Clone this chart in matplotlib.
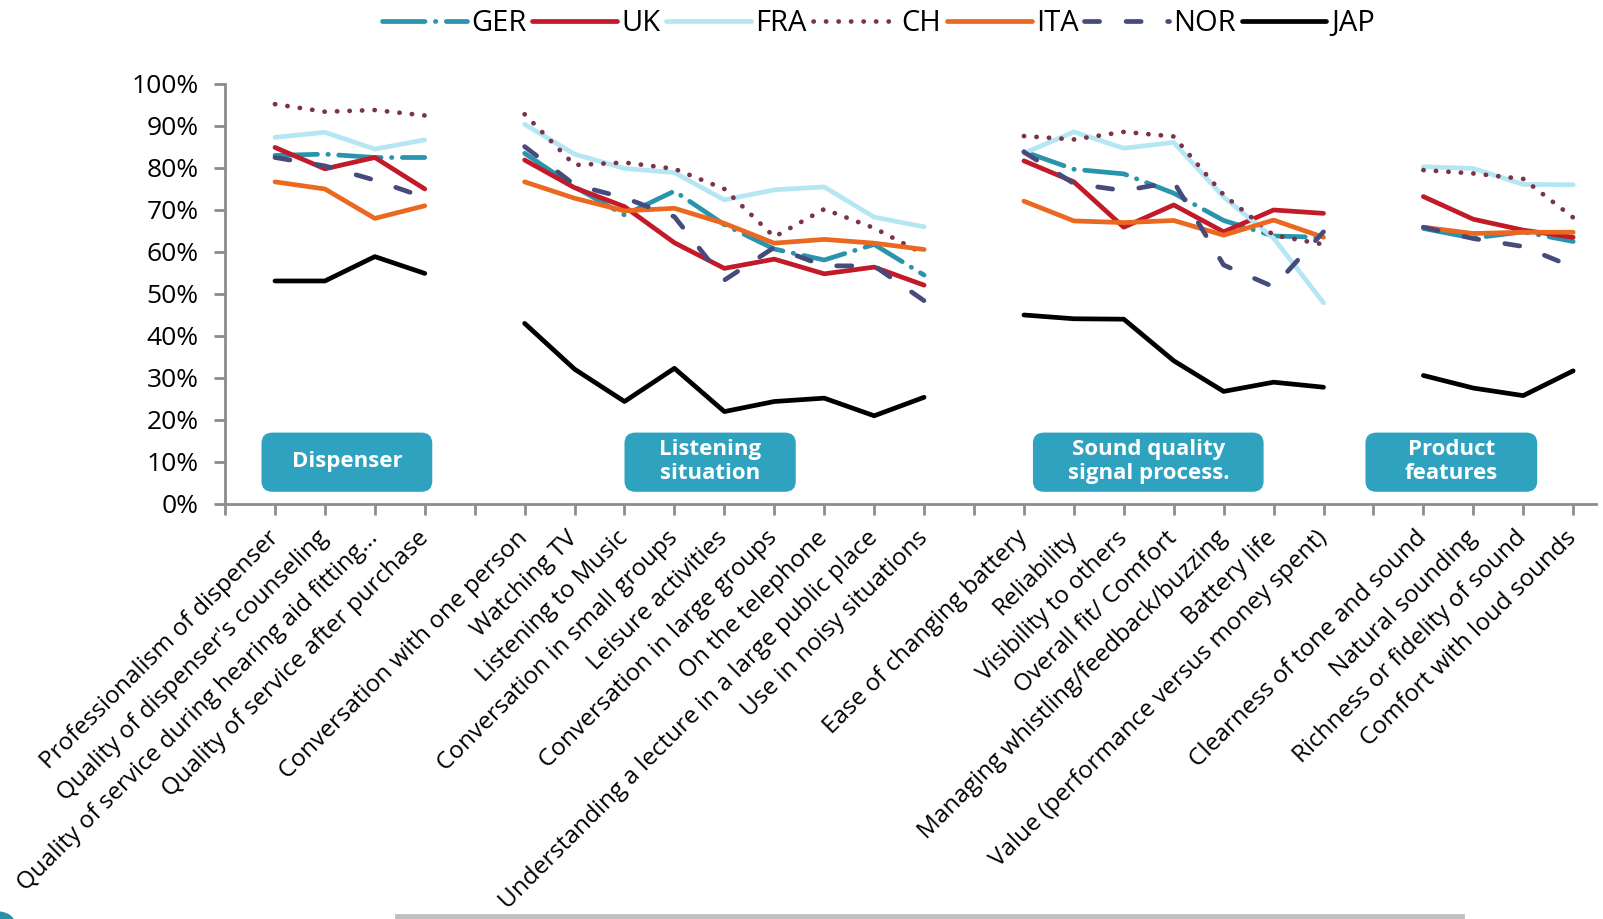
import numpy as np
import matplotlib
matplotlib.use("Agg")
import matplotlib.pyplot as plt
from matplotlib.patches import FancyBboxPatch, Circle
from matplotlib.lines import Line2D
from matplotlib.ticker import PercentFormatter

plt.rcParams['font.family'] = ['Open Sans', 'DejaVu Sans']

# categories per group (blank slot between groups)
cat_dispenser = ["Professionalism of dispenser", "Quality of dispenser's counseling",
                 "Quality of service during hearing aid fitting...", "Quality of service after purchase"]
cat_listening = ["Conversation with one person", "Watching TV", "Listening to Music",
                 "Conversation in small groups", "Leisure activities", "Conversation in large groups",
                 "On the telephone", "Understanding a lecture in a large public place",
                 "Use in noisy situations"]
cat_sound = ["Ease of changing battery", "Reliability", "Visibility to others", "Overall fit/ Comfort",
             "Managing whistling/feedback/buzzing", "Battery life",
             "Value (performance versus money spent)"]
cat_product = ["Clearness of tone and sound", "Natural sounding", "Richness or fidelity of sound",
               "Comfort with loud sounds"]

group_names = ["Dispenser", "Listening\nsituation", "Sound quality\nsignal process.", "Product\nfeatures"]

# satisfaction (%) per country, per group
GER = [[83.0, 83.3, 82.5, 82.5],
       [83.5, 75.5, 68.8, 74.5, 66.5, 60.7, 58.1, 61.8, 54.5],
       [83.9, 79.7, 78.6, 74.0, 67.5, 63.8, 63.5],
       [65.6, 63.3, 64.8, 62.5]]
UK = [[84.9, 79.8, 82.5, 75.0],
      [81.9, 75.3, 70.8, 62.2, 56.1, 58.3, 54.8, 56.4, 52.1],
      [81.7, 76.7, 65.9, 71.2, 64.8, 70.0, 69.2],
      [73.2, 67.8, 65.2, 63.5]]
FRA = [[87.3, 88.5, 84.5, 86.7],
       [90.4, 83.3, 79.9, 78.9, 72.4, 74.8, 75.5, 68.3, 66.0],
       [83.5, 88.6, 84.7, 86.1, 73.1, 63.3, 47.9],
       [80.3, 79.9, 76.1, 76.0]]
CH = [[95.2, 93.4, 93.8, 92.5],
      [92.8, 80.7, 81.3, 79.8, 75.0, 63.6, 70.2, 65.7, 59.5],
      [87.6, 86.8, 88.6, 87.5, 73.6, 64.0, 61.8],
      [79.5, 78.7, 77.4, 68.2]]
ITA = [[76.7, 75.0, 68.0, 71.0],
       [76.7, 72.8, 69.8, 70.4, 66.8, 62.1, 63.0, 62.1, 60.6],
       [72.1, 67.4, 67.0, 67.5, 64.0, 67.6, 63.5],
       [65.9, 64.4, 64.7, 64.7]]
NOR = [[82.5, 80.5, 77.1, 73.0],
       [85.1, 76.0, 72.9, 68.4, 53.3, 61.1, 56.7, 56.7, 48.4],
       [83.8, 76.3, 74.6, 76.7, 56.9, 51.7, 64.8],
       [65.9, 63.2, 61.3, 56.4]]
JAP = [[53.1, 53.1, 58.9, 54.9],
       [43.0, 32.1, 24.4, 32.3, 22.0, 24.4, 25.2, 21.0, 25.4],
       [45.0, 44.1, 44.0, 34.1, 26.8, 29.0, 27.8],
       [30.6, 27.6, 25.8, 31.7]]

series = [("GER", GER, "#2994AD", (9, 2.2, 0.1, 2.2)),
          ("UK", UK, "#C21A28", None),
          ("FRA", FRA, "#B5E6F3", None),
          ("CH", CH, "#7B3348", (0.05, 2.6)),
          ("ITA", ITA, "#EA681F", None),
          ("NOR", NOR, "#454C7C", (3.2, 5.6)),
          ("JAP", JAP, "#000000", None)]

groups = [cat_dispenser, cat_listening, cat_sound, cat_product]


def with_gaps(lists, blank):
    out = []
    for i, l in enumerate(lists):
        if i > 0:
            out.append(blank)
        out.extend(l)
    return out


labels = with_gaps(groups, "")
xs = np.arange(len(labels))

fig = plt.figure(figsize=(16.03, 9.19), dpi=100)
ax = fig.add_axes([0.1404, 0.4516, 0.855, 0.457])

lw = 3.4
handles = []
for name, vals, col, dash in series:
    y = np.array(with_gaps(vals, np.nan), dtype=float)
    if dash is None:
        ln, = ax.plot(xs, y, color=col, lw=lw, solid_capstyle='round',
                      solid_joinstyle='round', label=name)
    else:
        ln, = ax.plot(xs, y, color=col, lw=lw, dashes=dash, dash_capstyle='round',
                      solid_joinstyle='round', label=name)
    handles.append(ln)

ax.set_xlim(-1, 26.45)
ax.set_ylim(0, 100)
ax.set_yticks(np.arange(0, 101, 10))
ax.yaxis.set_major_formatter(PercentFormatter(100, decimals=0))
ax.set_xticks(np.arange(-1, len(labels)))
ax.set_xticklabels([""] + labels, rotation=45, ha='right', va='center',
                   rotation_mode='anchor', fontsize=17.5)

for s in ["top", "right"]:
    ax.spines[s].set_visible(False)
for s in ["left", "bottom"]:
    ax.spines[s].set_color("#8C8C8C")
    ax.spines[s].set_linewidth(2)
ax.tick_params(axis='both', colors="#8C8C8C", width=2, length=8, labelcolor='black')
ax.tick_params(axis='y', labelsize=19, pad=11)
ax.tick_params(axis='x', pad=14)

# group boxes
boxes = [(-0.27, 3.15), (7.0, 10.43), (15.18, 19.8), (21.84, 25.28)]
for (x0, x1), txt in zip(boxes, group_names):
    p = FancyBboxPatch((x0, 2.9), x1 - x0, 14.1,
                       boxstyle="round,pad=0,rounding_size=0.22",
                       mutation_aspect=11.5, fc="#2EA2BF", ec="none", zorder=3)
    ax.add_patch(p)
    ax.text((x0 + x1) / 2, 10.1, txt, ha='center', va='center', color='white',
            fontsize=16, fontweight='bold', linespacing=1.15, zorder=4)

fig.legend(handles=handles, loc='upper center', bbox_to_anchor=(0.548, 1.006),
           ncol=7, frameon=False, fontsize=21, handlelength=2.9,
           handletextpad=0.15, columnspacing=0.2, borderaxespad=0.1)

# grey rule and corner mark at bottom of slide
fig.add_artist(Line2D([397 / 1603, 1462 / 1603], [1 - 916 / 919] * 2,
                      color="#BFBFBF", lw=3.5, transform=fig.transFigure))
fig.add_artist(Circle((-4 / 1603, 1 - 922 / 919), 0.011, color="#2A8FA8",
                      transform=fig.transFigure))

fig.savefig("out.png", dpi=100)
